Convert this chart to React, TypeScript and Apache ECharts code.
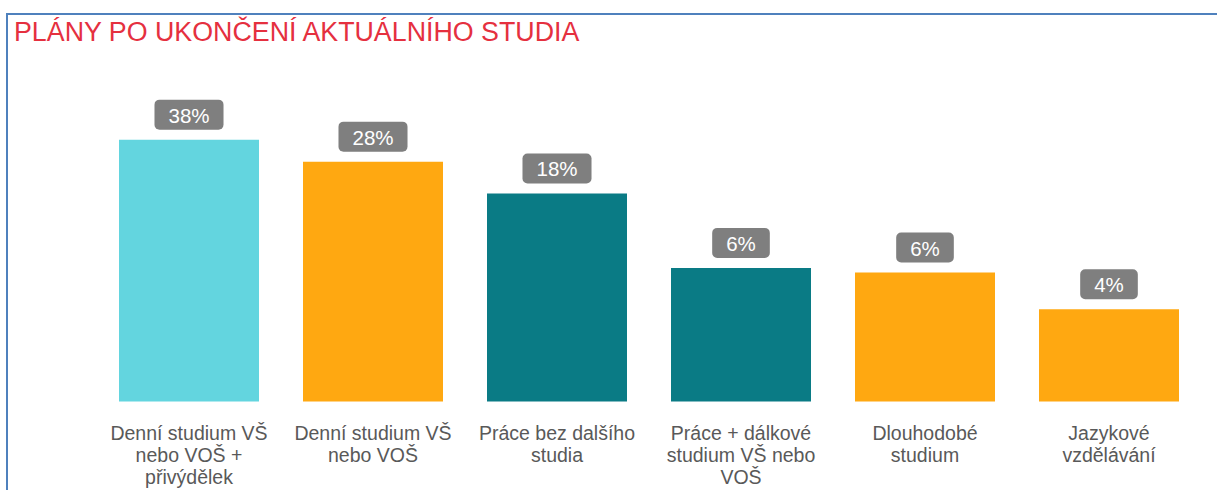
import React, { useEffect, useRef } from "react";
import * as echarts from "echarts";

const titleText = "PLÁNY PO UKONČENÍ AKTUÁLNÍHO STUDIA";
const categories = [
  "Denní studium VŠ\nnebo VOŠ +\npřivýdělek",
  "Denní studium VŠ\nnebo VOŠ",
  "Práce bez dalšího\nstudia",
  "Práce + dálkové\nstudium VŠ nebo\nVOŠ",
  "Dlouhodobé\nstudium",
  "Jazykové\nvzdělávání",
];
const values = [38, 28, 18, 6.4, 6.0, 3.6];
const barColors = ["#63D5DF", "#FFA811", "#0A7B85", "#0A7B85", "#FFA811", "#FFA811"];

export default function App() {
  const ref = useRef<HTMLDivElement>(null);
  useEffect(() => {
    const chart = echarts.init(ref.current!, null, { renderer: "svg" });
    chart.setOption({
      animation: false,
      backgroundColor: "#ffffff",
      title: {
        text: titleText,
        left: 14,
        top: 18,
        padding: 0,
        textStyle: {
          color: "#E5303F",
          fontSize: 26.8,
          fontWeight: "normal",
          fontFamily: "Liberation Sans, Arial, sans-serif",
        },
      },
      graphic: [
        {
          type: "line",
          shape: { x1: 6, y1: 14, x2: 1217, y2: 14 },
          style: { stroke: "#4F81BD", lineWidth: 2 },
        },
        {
          type: "line",
          shape: { x1: 7, y1: 13, x2: 7, y2: 490 },
          style: { stroke: "#4F81BD", lineWidth: 2 },
        },
      ],
      grid: { left: 97, right: 16, top: 70, bottom: 88.5 },
      xAxis: {
        type: "category",
        data: categories,
        axisLine: { show: false },
        axisTick: { show: false },
        axisLabel: {
          interval: 0,
          margin: 20,
          color: "#595959",
          fontSize: 19.5,
          lineHeight: 22,
          fontFamily: "Liberation Sans, Arial, sans-serif",
        },
      },
      yAxis: {
        type: "log",
        logBase: 10,
        min: 1,
        max: 100,
        show: false,
        splitLine: { show: false },
      },
      series: [
        {
          type: "bar",
          barWidth: 140,
          data: values.map((v, i) => ({ value: v, itemStyle: { color: barColors[i] } })),
          label: {
            show: true,
            position: "top",
            distance: 10,
            formatter: (p: any) => Math.round(p.value) + "%",
            color: "#ffffff",
            fontSize: 20.5,
            fontFamily: "Liberation Sans, Arial, sans-serif",
            backgroundColor: "#7F7F7F",
            borderRadius: 5,
            padding: [5, 14, 4, 14],
          },
        },
      ],
    });
    return () => chart.dispose();
  }, []);
  return (
    <div
      ref={ref}
      style={{ position: "absolute", left: 0, top: 0, width: 1217, height: 490 }}
    />
  );
}
